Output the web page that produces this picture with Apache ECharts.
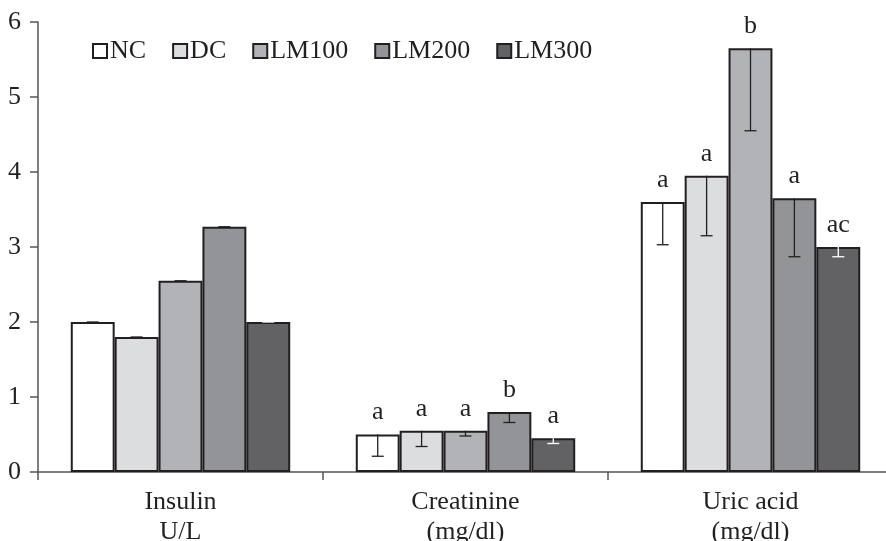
<!DOCTYPE html>
<html><head><meta charset="utf-8">
<script src="https://cdn.jsdelivr.net/npm/echarts@6/dist/echarts.min.js"></script>
<style>html,body{margin:0;padding:0;background:#fff}#c{width:886px;height:541px}</style>
</head><body><div id="c"></div>
<script>
const categories = ['Insulin\nU/L', 'Creatinine\n(mg/dl)', 'Uric acid\n(mg/dl)'];
const groups = ['NC', 'DC', 'LM100', 'LM200', 'LM300'];
const NC = [2.00, 0.50, 3.60];
const DC = [1.80, 0.55, 3.95];
const LM100 = [2.55, 0.55, 5.65];
const LM200 = [3.27, 0.80, 3.65];
const LM300 = [2.00, 0.45, 3.00];
const NC_err = [0, 0.29, 0.57];
const DC_err = [0, 0.21, 0.80];
const LM100_err = [0, 0.07, 1.10];
const LM200_err = [0, 0.14, 0.78];
const LM300_err = [0, 0.07, 0.13];
const NC_sig = ['', 'a', 'a'];
const DC_sig = ['', 'a', 'a'];
const LM100_sig = ['', 'a', 'b'];
const LM200_sig = ['', 'b', 'a'];
const LM300_sig = ['', 'a', 'ac'];
const yTicks = [0, 1, 2, 3, 4, 5, 6];

const values = [NC, DC, LM100, LM200, LM300];
const errs = [NC_err, DC_err, LM100_err, LM200_err, LM300_err];
const sigs = [NC_sig, DC_sig, LM100_sig, LM200_sig, LM300_sig];
const colors = ['#ffffff', '#dcdddf', '#b2b3b6', '#939497', '#626264'];
const errColors = ['#231f20', '#231f20', '#231f20', '#231f20', '#ffffff'];
const FONT = 'Liberation Serif';
const GAP = 0.23;

const series = [];
groups.forEach((g, i) => {
  series.push({
    name: g, type: 'bar', barGap: '0%', barCategoryGap: (GAP * 100) + '%',
    itemStyle: { color: colors[i], borderColor: '#231f20', borderWidth: 2 },
    label: {
      show: true, position: 'top', distance: 9,
      fontFamily: FONT, fontSize: 26, color: '#231f20',
      formatter: p => sigs[i][p.dataIndex]
    },
    data: values[i]
  });
});
groups.forEach((g, i) => {
  series.push({
    type: 'custom', name: g + '_err', z: 10, silent: true,
    data: values[i].map((v, k) => [k, v, v - errs[i][k]]),
    encode: { x: 0, y: 1 },
    renderItem: function (params, api) {
      const k = api.value(0);
      const band = api.size([1, 0])[0];
      const bw = band * (1 - GAP) / groups.length;
      const top = api.coord([k, api.value(1)]);
      const low = api.coord([k, api.value(2)]);
      const x = top[0] + (i - (groups.length - 1) / 2) * bw;
      const st = { stroke: errColors[i], lineWidth: 1.3 };
      return {
        type: 'group', children: [
          { type: 'line', shape: { x1: x, y1: top[1], x2: x, y2: low[1] }, style: st },
          { type: 'line', shape: { x1: x - 6, y1: low[1], x2: x + 6, y2: low[1] }, style: st }
        ]
      };
    }
  });
});

const chart = echarts.init(document.getElementById('c'));
chart.setOption({
  animation: false,
  backgroundColor: '#fff',
  legend: {
    data: groups, left: 87, top: 33, itemWidth: 14, itemHeight: 14, itemGap: 26,
    icon: 'rect',
    textStyle: { fontFamily: FONT, fontSize: 26, color: '#231f20', padding: [0, 0, 0, -2] }
  },
  grid: { left: 38, right: -7, top: 22, bottom: 69, containLabel: false, outerBoundsMode: 'none' },
  xAxis: {
    type: 'category', data: categories,
    axisLine: { lineStyle: { color: '#555', width: 1.5 } },
    axisTick: { show: true, length: 8, alignWithLabel: false, lineStyle: { color: '#555', width: 1.5 } },
    axisLabel: { fontFamily: FONT, fontSize: 26, color: '#231f20', margin: 15, lineHeight: 30 }
  },
  yAxis: {
    type: 'value', min: yTicks[0], max: yTicks[yTicks.length - 1], interval: 1,
    splitLine: { show: false },
    axisLine: { show: true, lineStyle: { color: '#555', width: 1.5 } },
    axisTick: { show: true, length: 8, lineStyle: { color: '#555', width: 1.5 } },
    axisLabel: { fontFamily: FONT, fontSize: 26, color: '#231f20', margin: 17 }
  },
  series: series
});
</script></body></html>
